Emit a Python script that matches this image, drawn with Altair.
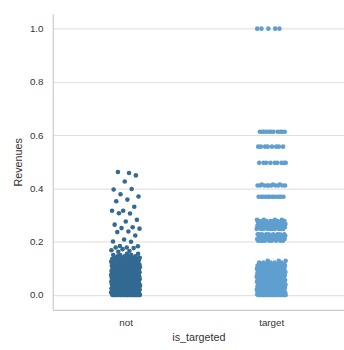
import altair as alt
import pandas as pd

# ---- data ----
categories = ["not", "target"]
colors = ["#336a94", "#5f9fd0"]

# "not": sparse points above the dense block
not_sparse = [0.458, 0.462, 0.449, 0.426, 0.396, 0.398, 0.378, 0.370, 0.358,
              0.352, 0.331, 0.316, 0.316, 0.306, 0.307, 0.282, 0.276, 0.264,
              0.254, 0.251, 0.249, 0.238, 0.236, 0.223, 0.208, 0.201, 0.200,
              0.184, 0.183, 0.178, 0.178, 0.176, 0.172, 0.168, 0.165, 0.162]
# "not": dense block levels and how many points at each
not_levels = [0.000, 0.005, 0.010, 0.015, 0.020, 0.025, 0.030, 0.035, 0.040,
              0.045, 0.050, 0.055, 0.060, 0.065, 0.070, 0.075, 0.080, 0.085,
              0.090, 0.095, 0.100, 0.105, 0.110, 0.115, 0.120, 0.125, 0.130,
              0.135, 0.140, 0.145, 0.150, 0.155]
not_counts = [30, 14, 13, 13, 12, 12, 12, 12, 11, 11, 11, 11, 10, 10, 10, 10,
              10, 10, 9, 9, 9, 9, 8, 8, 8, 7, 7, 6, 5, 4, 3, 2]

# "target": discrete revenue levels and counts
target_levels = [1.000, 0.613, 0.557, 0.496, 0.415, 0.411, 0.369,
                 0.282, 0.278, 0.272, 0.266, 0.260, 0.254, 0.248,
                 0.228, 0.222, 0.216, 0.210, 0.204,
                 0.128, 0.122, 0.116, 0.110, 0.104, 0.098, 0.092, 0.086,
                 0.080, 0.074, 0.068, 0.062, 0.056, 0.050, 0.044, 0.038,
                 0.032, 0.026, 0.020, 0.014, 0.008, 0.003, 0.000]
target_counts = [5, 11, 8, 9, 3, 10, 12,
                 4, 7, 9, 10, 10, 10, 10,
                 9, 10, 10, 10, 9,
                 3, 5, 7, 9, 10, 11, 11, 11,
                 11, 11, 11, 11, 11, 11, 11, 11,
                 11, 11, 11, 11, 11, 11, 25]

rows = []
for v in not_sparse:
    rows.append({"is_targeted": "not", "Revenues": v})
for v, c in zip(not_levels, not_counts):
    rows += [{"is_targeted": "not", "Revenues": v}] * c
for v, c in zip(target_levels, target_counts):
    rows += [{"is_targeted": "target", "Revenues": v}] * c
df = pd.DataFrame(rows)

base = alt.Chart(df).transform_window(
    idx="row_number()"
).transform_calculate(
    code="datum.is_targeted == 'not' ? 0 : 1",
    jit="((datum.idx * 0.6180339887) % 1) * 0.2 - 0.1",
).transform_calculate(
    xpos="datum.code + datum.jit"
)

chart = base.mark_circle(size=22, opacity=1).encode(
    x=alt.X("xpos:Q",
            scale=alt.Scale(domain=[-0.5, 1.5], nice=False, zero=False),
            axis=alt.Axis(values=[0, 1],
                          labelExpr="datum.value == 0 ? 'not' : 'target'",
                          title="is_targeted", grid=False, ticks=False,
                          tickSize=0, labelPadding=8, titlePadding=4,
                          domainColor="#cccccc", domainWidth=1.25)),
    y=alt.Y("Revenues:Q",
            scale=alt.Scale(domain=[-0.056, 1.056], nice=False, zero=False),
            axis=alt.Axis(values=[0, 0.2, 0.4, 0.6, 0.8, 1.0], format=".1f",
                          title="Revenues", grid=True, gridColor="#dcdcdc",
                          ticks=False, tickSize=0, labelPadding=10,
                          titlePadding=6,
                          domainColor="#cccccc", domainWidth=1.25)),
    color=alt.Color("is_targeted:N",
                    scale=alt.Scale(domain=categories, range=colors),
                    legend=None),
).properties(
    width=298, height=303,
    autosize=alt.AutoSizeParams(type="none"),
    padding={"left": 54, "top": 10, "right": 0, "bottom": 37},
).configure_view(
    strokeWidth=0
).configure_axis(
    labelFont="Liberation Sans", titleFont="Liberation Sans",
    labelFontSize=10, titleFontSize=11,
    labelColor="#333333", titleColor="#333333", titleFontWeight="normal",
)

chart.save("out.html", embed_options={"renderer": "svg", "actions": False})
